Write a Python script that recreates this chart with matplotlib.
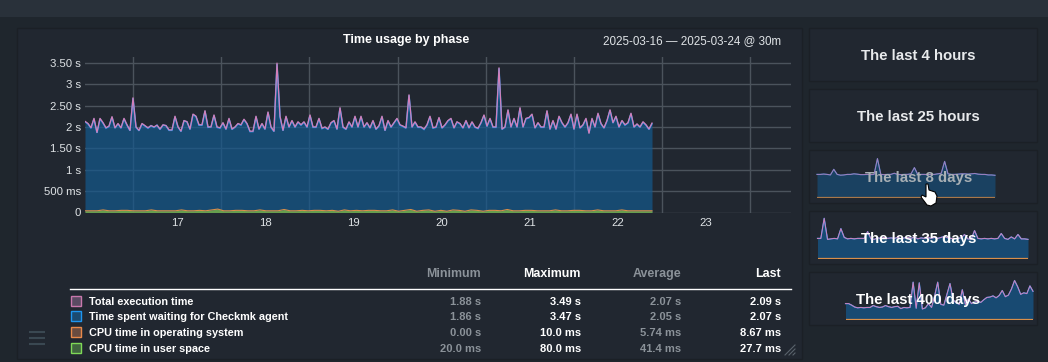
#!/usr/bin/env python3

import matplotlib
matplotlib.use('Agg')
import matplotlib.pyplot as plt
from matplotlib.patches import Rectangle, Polygon
import numpy as np

plt.rcParams['font.family'] = ['Liberation Sans', 'DejaVu Sans']

W, H = 1048, 362

# main graph, seconds
total = [2.13, 2.08, 1.98, 2.2, 1.87, 2.2, 2.1, 1.98, 2.02, 2.24, 1.98, 2.08, 1.98, 2.2, 2.05, 1.92,
         2.68, 2.0, 1.92, 2.08, 2.03, 1.98, 2.03, 2.0, 2.04, 1.95, 2.05, 2.03, 1.93, 1.93, 2.25, 2.0,
         1.9, 2.15, 2.12, 1.95, 2.3, 2.25, 2.05, 2.05, 2.38, 2.0, 2.0, 2.28, 2.0, 1.98, 2.1, 1.95,
         2.2, 1.95, 2.0, 2.08, 2.05, 2.18, 2.08, 1.9, 1.9, 2.25, 1.95, 2.08, 1.95, 2.35, 2.0, 1.9,
         3.49, 2.25, 1.92, 2.25, 2.0, 2.15, 2.0, 2.12, 2.05, 2.12, 2.0, 2.28, 2.0, 2.0, 2.2, 1.97,
         2.0, 1.95, 2.1, 2.15, 1.95, 2.45, 2.0, 1.95, 2.12, 2.0, 2.25, 2.0, 2.25, 2.0, 2.1, 1.98,
         2.15, 1.95, 2.03, 2.25, 1.92, 2.15, 2.0, 2.1, 2.2, 2.05, 2.02, 1.98, 2.75, 2.0, 2.12, 2.0,
         2.0, 1.95, 2.05, 2.25, 1.98, 2.0, 2.22, 1.98, 2.05, 2.15, 2.2, 1.98, 2.12, 2.08, 1.98, 2.15,
         1.98, 2.12, 2.0, 1.97, 2.1, 2.28, 2.02, 2.2, 2.0, 2.0, 3.38, 1.95, 2.0, 2.4, 2.0, 2.2,
         2.0, 2.45, 2.0, 2.2, 2.22, 2.3, 1.98, 2.1, 2.0, 2.0, 2.38, 1.95, 2.15, 1.95, 2.25, 2.1,
         2.0, 2.1, 2.3, 1.95, 2.3, 1.98, 2.05, 2.2, 1.85, 2.2, 2.0, 2.32, 2.08, 1.98, 2.15, 2.4,
         2.1, 2.25, 2.0, 2.15, 2.05, 2.1, 2.32, 2.0, 2.07, 2.0, 2.12, 2.05, 1.95, 2.09]
waiting = [2.12, 2.07, 1.97, 2.19, 1.86, 2.19, 2.09, 1.97, 2.01, 2.23, 1.97, 2.07, 1.97, 2.19, 2.04, 1.91,
           2.67, 1.99, 1.91, 2.07, 2.02, 1.97, 2.03, 1.99, 2.04, 1.94, 2.04, 2.03, 1.92, 1.92, 2.24, 2.0,
           1.89, 2.14, 2.12, 1.94, 2.29, 2.24, 2.04, 2.04, 2.37, 1.99, 2.0, 2.27, 1.99, 1.97, 2.09, 1.94,
           2.19, 1.94, 1.99, 2.07, 2.04, 2.17, 2.07, 1.89, 1.89, 2.24, 1.94, 2.07, 1.94, 2.34, 1.99, 1.89,
           3.47, 2.24, 1.91, 2.24, 1.99, 2.14, 1.99, 2.11, 2.04, 2.11, 1.99, 2.27, 1.99, 1.99, 2.19, 1.96,
           1.99, 1.94, 2.09, 2.14, 1.94, 2.44, 1.99, 1.94, 2.11, 1.99, 2.24, 1.99, 2.24, 1.99, 2.09, 1.97,
           2.14, 1.94, 2.02, 2.24, 1.91, 2.14, 1.99, 2.09, 2.19, 2.04, 2.01, 1.97, 2.74, 1.99, 2.11, 1.99,
           1.99, 1.94, 2.04, 2.24, 1.97, 1.99, 2.21, 1.97, 2.04, 2.14, 2.19, 1.97, 2.11, 2.07, 1.97, 2.14,
           1.97, 2.11, 1.99, 1.96, 2.09, 2.27, 2.01, 2.19, 1.99, 1.99, 3.37, 1.94, 1.99, 2.39, 1.99, 2.19,
           1.99, 2.44, 1.99, 2.19, 2.21, 2.29, 1.97, 2.09, 1.99, 1.99, 2.37, 1.94, 2.14, 1.94, 2.24, 2.09,
           1.99, 2.09, 2.29, 1.94, 2.29, 1.97, 2.04, 2.19, 1.86, 2.19, 1.99, 2.31, 2.07, 1.97, 2.14, 2.39,
           2.09, 2.24, 1.99, 2.14, 2.04, 2.09, 2.31, 1.99, 2.06, 1.99, 2.11, 2.04, 1.94, 2.07]
cpu_user = [0.03, 0.04, 0.03, 0.05, 0.04, 0.03, 0.04, 0.05, 0.03, 0.04, 0.03, 0.05, 0.04, 0.03, 0.04, 0.03,
            0.05, 0.04, 0.03, 0.04, 0.04, 0.05, 0.07, 0.04, 0.03, 0.04, 0.05, 0.03, 0.04, 0.05, 0.03, 0.04,
            0.03, 0.06, 0.04, 0.03, 0.05, 0.03, 0.04, 0.05, 0.03, 0.04, 0.03, 0.05, 0.04, 0.04, 0.03, 0.05,
            0.04, 0.03, 0.04, 0.05, 0.03, 0.04, 0.06, 0.03, 0.04, 0.05, 0.03, 0.04, 0.03, 0.05, 0.04, 0.03,
            0.05, 0.04, 0.03, 0.04, 0.05, 0.03, 0.06, 0.04, 0.03, 0.04, 0.05, 0.03, 0.04, 0.03, 0.05, 0.04,
            0.03, 0.04, 0.05, 0.03, 0.04, 0.05, 0.03, 0.04, 0.03, 0.05, 0.04, 0.03, 0.04, 0.03, 0.03]
cpu_sys = [0.01, 0.0, 0.01, 0.01, 0.0, 0.01, 0.01, 0.0, 0.01, 0.0, 0.01, 0.01, 0.0, 0.01, 0.0, 0.01,
           0.01, 0.0, 0.01, 0.01, 0.0, 0.01, 0.01, 0.0, 0.01, 0.01, 0.0, 0.01, 0.0, 0.01, 0.01, 0.0,
           0.01, 0.01, 0.0, 0.01, 0.0, 0.01, 0.01, 0.0, 0.01, 0.01, 0.0, 0.01, 0.0, 0.01, 0.01, 0.0,
           0.01, 0.01, 0.0, 0.01, 0.0, 0.01, 0.01, 0.0, 0.01, 0.01, 0.0, 0.01, 0.0, 0.01, 0.01, 0.0,
           0.01, 0.01, 0.0, 0.01, 0.0, 0.01, 0.01, 0.0, 0.01, 0.01, 0.0, 0.01, 0.0, 0.01, 0.01, 0.0,
           0.01, 0.01, 0.0, 0.01, 0.0, 0.01, 0.01, 0.0, 0.01, 0.01, 0.0, 0.01, 0.0, 0.01, 0.01]

y_ticks = [0, 0.5, 1, 1.5, 2, 2.5, 3, 3.5]
y_labels = ['0', '500 ms', '1 s', '1.50 s', '2 s', '2.50 s', '3 s', '3.50 s']
x_ticks = [17, 18, 19, 20, 21, 22, 23]
midnights = [16.5, 17.5, 18.5, 19.5, 20.5, 21.5, 22.5, 23.5]

# table under the graph
series_names = ['Total execution time', 'Time spent waiting for Checkmk agent',
                'CPU time in operating system', 'CPU time in user space']
minimum = ['1.88 s', '1.86 s', '0.00 s', '20.0 ms']
maximum = ['3.49 s', '3.47 s', '10.0 ms', '80.0 ms']
average = ['2.07 s', '2.05 s', '5.74 ms', '41.4 ms']
last = ['2.09 s', '2.07 s', '8.67 ms', '27.7 ms']

# small previews on the right
spark_8d = [2.0, 2.0, 2.03, 2.0, 1.95, 2.45, 2.0, 1.93, 1.95, 2.0, 2.0, 2.05, 2.02, 1.98, 1.98, 2.0, 1.98, 2.0,
            3.4, 2.0, 1.98, 2.0, 2.0, 2.1, 2.0, 1.98, 2.0, 2.0, 2.05, 2.6, 2.0, 2.0, 2.0, 1.98, 2.0, 2.0,
            2.05, 2.1, 3.15, 2.05, 2.0, 2.0, 2.02, 2.05, 2.05, 2.02, 2.05, 2.08, 2.02, 2.0, 2.0, 1.95, 1.95, 1.92]
spark_35d = [2.0, 2.0, 4.05, 1.9, 1.95, 2.0, 1.95, 3.0, 2.1, 1.95, 2.0, 1.95, 2.0, 2.0, 2.0, 2.7,
             1.95, 1.9, 2.05, 2.0, 2.1, 2.0, 2.05, 2.0, 2.1, 1.95, 2.05, 2.1, 2.0, 2.15, 1.95, 2.05,
             2.0, 2.1, 2.0, 2.1, 2.0, 2.1, 2.2, 2.05, 2.0, 1.95, 2.0, 2.05, 2.4, 1.95, 1.9, 2.8,
             2.0, 1.95, 2.0, 1.95, 2.0, 1.95, 2.0, 2.5, 2.0, 1.9, 2.15, 1.95, 2.4, 1.95, 1.95, 1.9]
spark_400d = [2.0, 2.0, 1.8, 1.55, 1.45, 1.5, 1.45, 1.5, 1.5, 1.75, 1.6, 1.5, 1.55, 1.75, 1.6, 1.5,
              1.6, 1.65, 1.35, 1.5, 1.45, 1.5, 4.78, 1.4, 4.7, 1.3, 1.45, 2.0, 1.5, 3.0, 4.78, 1.9,
              1.8, 3.2, 4.6, 2.5, 2.1, 1.9, 3.8, 1.9, 2.6, 2.0, 2.2, 2.3, 2.15, 2.5, 2.8, 2.85,
              3.0, 2.75, 3.05, 3.7, 2.9, 3.1, 3.9, 5.0, 4.2, 3.2, 3.4, 3.3, 4.3, 3.6]
card_titles = ['The last 4 hours', 'The last 25 hours', 'The last 8 days', 'The last 35 days', 'The last 400 days']

BG = '#1f262d'
TOPBAR = '#29313a'
PANEL = '#212730'
EDGE = '#1b2026'
FILL = '#14598e'
SPARK_FILL = '#184a72'
BLUE = '#1e96f0'
PINK = '#d47fb8'
ORANGE = '#d98f4a'
GREEN = '#6fa84a'


def axes_px(left, top, right, bottom, **kw):
    return fig.add_axes([left / W, 1 - bottom / H, (right - left) / W, (bottom - top) / H], **kw)


fig = plt.figure(figsize=(W / 100, H / 100), dpi=100, facecolor=BG)

# background layer in pixel coordinates
back = axes_px(0, 0, W, H, zorder=0)
back.set_xlim(0, W)
back.set_ylim(H, 0)
back.axis('off')
back.add_patch(Rectangle((0, 0), W, 17, fc=TOPBAR, ec='none'))
back.add_patch(Rectangle((16.5, 27.5), 785.5, 331, fc=PANEL, ec=EDGE, lw=1))
card_tops = [27, 88, 149, 210, 271]
for top in card_tops:
    back.add_patch(Rectangle((808.5, top + 0.5), 228, 53, fc=PANEL, ec=EDGE, lw=1))

# main graph
ax = axes_px(85, 57, 791, 212.5, zorder=1)
ax.patch.set_alpha(0)
for s in ax.spines.values():
    s.set_visible(False)
ax.set_xlim(17 + (85 - 177) / 88.2, 17 + (791 - 177) / 88.2)
ax.set_ylim(0, 155.5 / 42.8)

t = np.linspace(17 + (85 - 177) / 88.2, 17 + (652 - 177) / 88.2, len(total))
t_cpu = np.linspace(t[0], t[-1], len(cpu_user))
user = np.array(cpu_user)
sys_top = user + np.array(cpu_sys)

# grid sits under the translucent area so it only shows faintly through it
for y in y_ticks:
    ax.axhline(y, color='#4b535c', lw=1, zorder=0.5)
for d in midnights:
    ax.axvline(d, color='#4b535c', lw=1, zorder=0.5)

ax.fill_between(t, waiting, color=FILL, alpha=0.7, lw=0, zorder=1)
ax.fill_between(t_cpu, sys_top, color=GREEN, alpha=0.9, lw=0, zorder=2)
ax.plot(t, waiting, color=BLUE, lw=1.1, solid_joinstyle='miter', zorder=3)
ax.plot(t, total, color=PINK, lw=0.9, solid_joinstyle='round', zorder=4)
ax.plot(t_cpu, sys_top, color=ORANGE, lw=0.8, zorder=6)

ax.set_yticks(y_ticks, y_labels)
ax.set_xticks(x_ticks, [str(d) for d in x_ticks])
ax.tick_params(length=0, labelsize=8.2, colors='#dfe3e6', pad=3)
ax.tick_params(axis='x', pad=4)

# spark previews, the hovered one is dimmed
spark_specs = [(spark_8d, 817, 995, 197, 11.3, 0.75), (spark_35d, 817.5, 1028, 258, 9.8, 1),
               (spark_400d, 845.5, 1033, 319, 7.7, 1)]
for values, x0, x1, base, scale, op in spark_specs:
    sp = axes_px(x0, base - 47, x1, base + 1, zorder=1)
    sp.axis('off')
    sp.patch.set_alpha(0)
    sp.set_xlim(0, len(values) - 1)
    sp.set_ylim(-1 / scale, 47 / scale)
    sp.fill_between(range(len(values)), values, color=SPARK_FILL, lw=0, alpha=op)
    sp.plot(values, color=BLUE, lw=0.9, clip_on=False, alpha=op)
    sp.plot(values, color=PINK, lw=0.7, clip_on=False, alpha=op)
    sp.axhline(0.04, color=ORANGE, lw=0.9, alpha=op)

# foreground layer: texts and table
front = axes_px(0, 0, W, H, zorder=2)
front.set_xlim(0, W)
front.set_ylim(H, 0)
front.axis('off')
front.patch.set_alpha(0)

front.text(406, 43, 'Time usage by phase', ha='center', va='baseline', fontsize=9.0, fontweight='bold', color='white')
front.text(781, 44, '2025-03-16 — 2025-03-24 @ 30m', ha='right', va='baseline', fontsize=8.4, color='#dfe3e6')

headers = ['Minimum', 'Maximum', 'Average', 'Last']
columns = [minimum, maximum, average, last]
col_right = [481, 581, 681, 781]
col_color = ['#8b9299', 'white', '#8b9299', 'white']
row_ys = [305, 320, 336, 352]
for head, col, xr, c in zip(headers, columns, col_right, col_color):
    front.text(xr, 277, head, ha='right', va='baseline', fontsize=8.9, fontweight='bold', color=c)
    for row_y, val in zip(row_ys, col):
        front.text(xr, row_y, val, ha='right', va='baseline', fontsize=8.0, fontweight='bold', color=c)

front.plot([70, 791], [288.5, 288.5], color='white', lw=1)

swatch_edge = ['#c878ac', '#1e96f0', '#e8894a', '#7ed957']
swatch_face = ['#5a4a62', '#1b4a70', '#6a4c40', '#40653f']
for row_y, name, ec, fc in zip(row_ys, series_names, swatch_edge, swatch_face):
    front.add_patch(Rectangle((70.5, row_y - 9.5), 10, 10, fc=fc, ec=ec, lw=1))
    front.text(89, row_y, name, ha='left', va='baseline', fontsize=7.8, fontweight='bold', color='white')

# hamburger and resize grip
for y in [332, 338, 344]:
    front.plot([29, 45], [y, y], color='#3a4852', lw=1.5, solid_capstyle='butt')
for off in [0, 4, 8]:
    front.plot([785 + off, 795], [355, 345 + off], color='#5a636c', lw=0.8)

# card labels
card_colors = ['#e8eaec', '#e8eaec', '#a9b0b5', 'white', 'white']
card_y = [60, 121, 182, 243, 304]
for title, y, c in zip(card_titles, card_y, card_colors):
    front.text(918.5, y, title, ha='center', va='baseline', fontsize=10.8, fontweight='bold', color=c)

# hand cursor over the 8 days card
hand = [(926, 184), (928, 184), (929, 190), (935, 192), (937, 196), (936, 203), (931, 206), (927, 205), (921, 197),
        (922, 195), (926, 197)]
front.add_patch(Polygon(hand, closed=True, fc='white', ec='black', lw=0.8))

fig.savefig('out.png', dpi=100, facecolor=BG)
